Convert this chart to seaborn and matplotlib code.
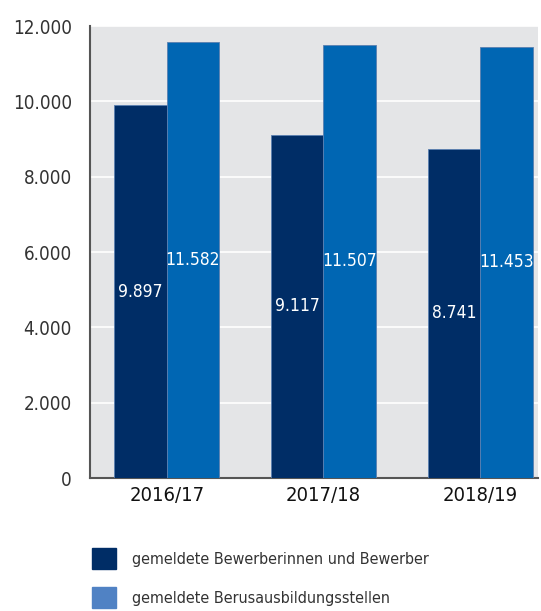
import pandas as pd
import numpy as np
import matplotlib
matplotlib.use('Agg')
import matplotlib.pyplot as plt
import matplotlib.patches as mpatches
import seaborn as sns

# Bewerber vs. Berufsausbildungsstellen, three training years
years = ['2016/17', '2017/18', '2018/19']
bewerber = [9897, 9117, 8741]
stellen = [11582, 11507, 11453]
series_names = ['gemeldete Bewerberinnen und Bewerber',
                'gemeldete Berusausbildungsstellen']
yticks = [0, 2000, 4000, 6000, 8000, 10000, 12000]

dark = '#002d66'
light = '#0066b3'
legend_light = '#5082c4'

df = pd.DataFrame({
    'Jahr': years * 2,
    'Wert': bewerber + stellen,
    'Serie': [series_names[0]] * 3 + [series_names[1]] * 3,
})

sns.set_style('white')
plt.rcParams['font.family'] = ['DejaVu Sans']
plt.rcParams['font.stretch'] = 'condensed'


def fmt(v):
    return f'{v:,}'.replace(',', '.')


fig = plt.figure(figsize=(5.41, 6.11), dpi=100)
ax = fig.add_axes([90 / 541, 133 / 611, 448 / 541, 452 / 611])
ax.set_facecolor('#e4e5e7')

sns.barplot(data=df, x='Jahr', y='Wert', hue='Serie', ax=ax,
            palette=[dark, light], width=0.67, saturation=1,
            edgecolor='#5a7fb0', linewidth=0.6, legend=False, zorder=3)

ax.set_ylim(0, 12000)
ax.set_xlim(-0.49, 2.37)
ax.set_yticks(yticks)
ax.set_yticklabels([fmt(t) for t in yticks], fontsize=13.5, color='#333333')
ax.set_xticks(range(len(years)))
ax.set_xticklabels(years, fontsize=14.5, color='#111111')
ax.tick_params(axis='y', length=0, pad=13)
ax.tick_params(axis='x', length=0, pad=6)
ax.set_xlabel('')
ax.set_ylabel('')
ax.yaxis.grid(True, color='white', linewidth=1.2, zorder=0)
ax.set_axisbelow(True)

for side in ['top', 'right']:
    ax.spines[side].set_visible(False)
for side in ['left', 'bottom']:
    ax.spines[side].set_color('#555555')
    ax.spines[side].set_linewidth(1.5)

# value labels in the middle of each bar
for container in ax.containers:
    for bar in container:
        h = bar.get_height()
        ax.text(bar.get_x() + bar.get_width() / 2, h / 2, fmt(int(round(h))),
                ha='center', va='center', color='white', fontsize=12.5, zorder=4)

handles = [mpatches.Patch(color=dark, label=series_names[0]),
           mpatches.Patch(color=legend_light, label=series_names[1])]
fig.legend(handles=handles, loc='upper left', bbox_to_anchor=(78 / 541, 1 - 534 / 611),
           frameon=False, fontsize=11.5, handlelength=1.5, handleheight=1.65,
           handletextpad=0.95, labelspacing=1.1, labelcolor='#333333')

fig.savefig('out.png', dpi=100)
